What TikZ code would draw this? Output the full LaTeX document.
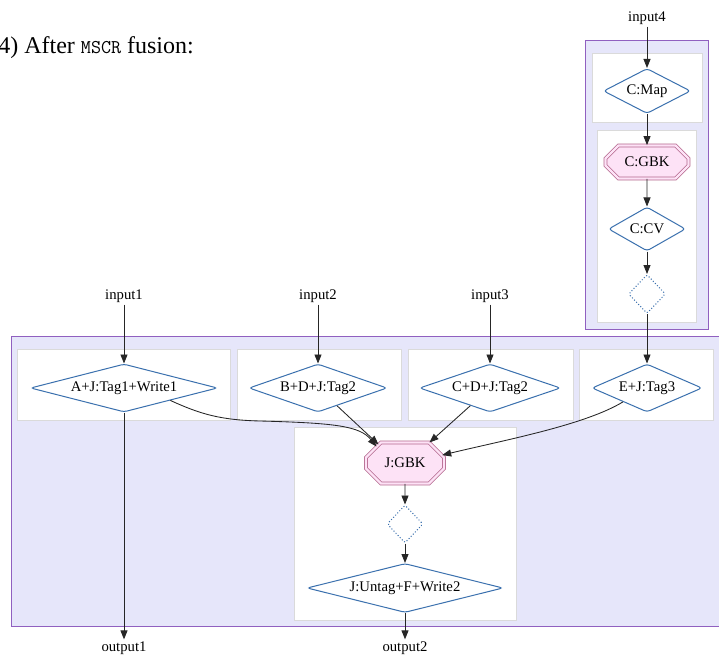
\documentclass[tikz,border=0pt]{standalone}
\usepackage{fontspec}
\setmainfont{Liberation Serif}
\usetikzlibrary{shapes.geometric,shapes.misc,arrows.meta,calc}
\definecolor{clfill}{HTML}{E6E6FA}
\definecolor{clborder}{HTML}{9060C0}
\definecolor{boxborder}{HTML}{DADADA}
\definecolor{dblue}{HTML}{3A70AE}
\definecolor{gstroke}{HTML}{B3668C}
\definecolor{gfill}{HTML}{FDE2F6}
\newcommand\nodefont{\fontsize{14.7}{17}\selectfont}
\tikzset{
  cluster/.style={draw=clborder, fill=clfill, line width=0.9pt},
  stagebox/.style={draw=boxborder, fill=white, line width=0.8pt},
  op/.style={diamond, draw=dblue, fill=white, line width=1pt, rounded corners=3pt, inner sep=0pt, font=\nodefont},
  hole/.style={diamond, draw=dblue, dotted, line width=1pt, rounded corners=2pt, inner sep=0pt, aspect=0.95, minimum width=37pt, minimum height=39pt},
  gbk/.style={chamfered rectangle, draw=gstroke, fill=gfill, double=gfill, double distance=2.2pt, line width=0.75pt, inner sep=0pt, font=\nodefont},
  lbl/.style={inner sep=2pt, font=\nodefont},
  flow/.style={draw=black!85, line width=0.85pt, -{Triangle[length=9pt,width=7pt]}}
}
\begin{document}
\begin{tikzpicture}[x=1pt,y=-1pt]
\useasboundingbox (0,0) rectangle (719,660);
% title
\node[anchor=base east, inner sep=0pt, font=\fontsize{24}{28}\selectfont] (title) at (194,54) {4) After {\fontspec{Latin Modern Mono}\fontsize{19.5}{23}\selectfont MSCR} fusion:};
% clusters
\draw[cluster] (585,40) rectangle (708,329);
\draw[stagebox] (592,53) rectangle (702,122);
\draw[stagebox] (597,130) rectangle (696,322);
\draw[cluster] (11,336) rectangle (730,626);
\draw[stagebox] (17,349) rectangle (230,420);
\draw[stagebox] (237,349) rectangle (401,420);
\draw[stagebox] (408,349) rectangle (573,420);
\draw[stagebox] (579,349) rectangle (713,420);
\draw[stagebox] (294,427) rectangle (516,620);
% labels
\node[lbl] (in4) at (647,18) {input4};
\node[lbl] (in1) at (124,296) {input1};
\node[lbl] (in2) at (318,296) {input2};
\node[lbl] (in3) at (490,296) {input3};
\node[lbl] (out1) at (124,648) {output1};
\node[lbl] (out2) at (405,648) {output2};
% right chain
\node[op, aspect=1.93, minimum width=87pt, minimum height=45pt] (cmap) at (647,91) {C:Map};
\node[gbk, minimum width=83pt, minimum height=33pt, chamfered rectangle xsep=15pt, chamfered rectangle ysep=8pt] (cgbk) at (647,162) {C:GBK};
\node[op, aspect=1.75, minimum width=77pt, minimum height=44pt] (ccv) at (647,229) {C:CV};
\node[hole] (chole) at (647,294) {};
% main row
\node[op, aspect=3.9, minimum width=187pt, minimum height=48pt] (a) at (124,388) {A+J:Tag1+Write1};
\node[op, aspect=2.875, minimum width=138pt, minimum height=48pt] (b) at (318,388) {B+D+J:Tag2};
\node[op, aspect=2.94, minimum width=141pt, minimum height=48pt] (c) at (490,388) {C+D+J:Tag2};
\node[op, aspect=2.29, minimum width=110pt, minimum height=48pt] (e) at (647,388) {E+J:Tag3};
\node[gbk, minimum width=78pt, minimum height=41pt, chamfered rectangle xsep=12pt, chamfered rectangle ysep=10pt] (jgbk) at (405,463) {J:GBK};
\node[hole, minimum width=36pt, minimum height=38pt] (jhole) at (405,524) {};
\node[op, aspect=4, minimum width=196pt, minimum height=49pt] (untag) at (405,588) {J:Untag+F+Write2};
% edges
\draw[flow] (in4) -- (cmap);
\draw[flow] (cmap) -- (cgbk);
\draw[flow] (cgbk) -- (ccv);
\draw[flow] (ccv) -- (chole);
\draw[flow] (chole) -- (e);
\draw[flow] (in1) -- (a);
\draw[flow] (in2) -- (b);
\draw[flow] (in3) -- (c);
\draw[flow] (a) -- (out1);
\draw[flow] (a.-15) .. controls (200,414) and (220,420) .. (260,421) .. controls (335,423) and (360,426) .. (jgbk.150);
\draw[flow] (b) -- (jgbk.145);
\draw[flow] (c) -- (jgbk.40);
\draw[flow] (e.-150) .. controls (585,425) and (505,440) .. (jgbk.12);
\draw[flow] (jgbk) -- (jhole);
\draw[flow] (jhole) -- (untag);
\draw[flow] (untag) -- (out2);
\end{tikzpicture}
\end{document}
